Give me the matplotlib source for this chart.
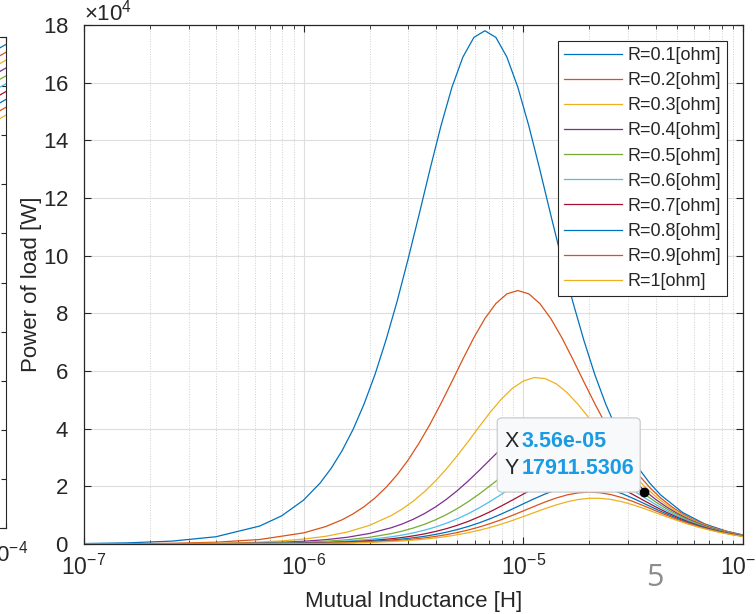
import numpy as np
import matplotlib.pyplot as plt
from matplotlib.ticker import ScalarFormatter, LogLocator, FixedLocator
from matplotlib.patches import FancyBboxPatch

plt.rcParams['font.family'] = ['Liberation Sans', 'DejaVu Sans']
plt.rcParams['mathtext.fontset'] = 'custom'
plt.rcParams['mathtext.rm'] = 'Liberation Sans'

# log10 of mutual inductance [H] -- finer sampling around the two tall peaks
log_m_r01 = [-7.0, -6.8, -6.6, -6.4, -6.2, -6.1, -6.0, -5.925, -5.875, -5.825, -5.775,
             -5.725, -5.675, -5.625, -5.575, -5.525, -5.475, -5.425, -5.375, -5.325,
             -5.275, -5.225, -5.175, -5.125, -5.075, -5.025, -4.975, -4.925, -4.875,
             -4.825, -4.775, -4.725, -4.675, -4.625, -4.575, -4.525, -4.475, -4.425,
             -4.375, -4.275, -4.175, -4.075, -4.0]
log_m_r02 = [-7.0, -6.8, -6.6, -6.4, -6.2, -6.0, -5.9, -5.825, -5.775, -5.725, -5.675,
             -5.625, -5.575, -5.525, -5.475, -5.425, -5.375, -5.325, -5.275, -5.225,
             -5.175, -5.125, -5.075, -5.025, -4.975, -4.925, -4.875, -4.825, -4.775,
             -4.725, -4.675, -4.625, -4.575, -4.525, -4.475, -4.425, -4.375, -4.325,
             -4.275, -4.225, -4.125, -4.025, -4.0]
log_m = [-7.0, -6.9, -6.8, -6.7, -6.6, -6.5, -6.4, -6.3, -6.2, -6.1, -6.0,
         -5.9, -5.8, -5.7, -5.6, -5.55, -5.5, -5.45, -5.4, -5.35, -5.3, -5.25,
         -5.2, -5.15, -5.1, -5.05, -5.0, -4.95, -4.9, -4.85, -4.8, -4.75, -4.7,
         -4.65, -4.6, -4.55, -4.5, -4.45, -4.4, -4.35, -4.3, -4.25, -4.2,
         -4.15, -4.1, -4.05, -4.0]

# power of load, in units of 1e4 W
p_r01 = [0.016, 0.040, 0.100, 0.251, 0.623, 0.977, 1.525, 2.116, 2.622, 3.236, 3.975,
         4.854, 5.885, 7.079, 8.405, 9.868, 11.41, 12.99, 14.50, 15.84, 16.89, 17.57,
         17.80, 17.57, 16.89, 15.84, 14.50, 12.99, 11.41, 9.868, 8.405, 7.079, 5.885,
         4.854, 3.975, 3.236, 2.622, 2.116, 1.702, 1.093, 0.698, 0.443, 0.315]
p_r02 = [0.004, 0.010, 0.025, 0.062, 0.156, 0.386, 0.604, 0.840, 1.045, 1.295, 1.598,
         1.963, 2.397, 2.906, 3.496, 4.151, 4.873, 5.634, 6.414, 7.160, 7.820, 8.340,
         8.675, 8.790, 8.675, 8.340, 7.820, 7.160, 6.414, 5.634, 4.873, 4.151, 3.496,
         2.906, 2.397, 1.963, 1.598, 1.295, 1.045, 0.840, 0.540, 0.345, 0.308]
p_r03 = [0.002, 0.003, 0.004, 0.007, 0.011, 0.017, 0.027, 0.043, 0.068, 0.108, 0.170,
         0.267, 0.417, 0.647, 0.992, 1.220, 1.493, 1.814, 2.186, 2.605, 3.070, 3.565,
         4.077, 4.575, 5.026, 5.396, 5.652, 5.774, 5.736, 5.555, 5.245, 4.835, 4.359,
         3.851, 3.345, 2.861, 2.415, 2.015, 1.666, 1.367, 1.115, 0.905, 0.731,
         0.588, 0.472, 0.378, 0.302]
p_r04 = [0.001, 0.002, 0.002, 0.004, 0.006, 0.010, 0.015, 0.024, 0.038, 0.061, 0.095,
         0.150, 0.235, 0.366, 0.566, 0.699, 0.861, 1.055, 1.284, 1.551, 1.855, 2.193,
         2.557, 2.936, 3.311, 3.656, 3.948, 4.161, 4.274, 4.277, 4.167, 3.958, 3.668,
         3.324, 2.951, 2.572, 2.207, 1.867, 1.562, 1.294, 1.064, 0.869, 0.705,
         0.570, 0.459, 0.369, 0.296]
p_r05 = [0.001, 0.001, 0.002, 0.002, 0.004, 0.006, 0.010, 0.015, 0.024, 0.038, 0.060,
         0.095, 0.149, 0.233, 0.362, 0.450, 0.556, 0.684, 0.838, 1.020, 1.231, 1.472,
         1.739, 2.028, 2.327, 2.622, 2.895, 3.125, 3.292, 3.379, 3.379, 3.291, 3.124,
         2.894, 2.621, 2.326, 2.027, 1.738, 1.471, 1.230, 1.019, 0.837, 0.683,
         0.555, 0.449, 0.361, 0.291]
p_r06 = [0.000, 0.001, 0.001, 0.002, 0.003, 0.004, 0.007, 0.011, 0.017, 0.026, 0.041,
         0.065, 0.103, 0.161, 0.251, 0.312, 0.388, 0.479, 0.589, 0.721, 0.876, 1.055,
         1.257, 1.482, 1.721, 1.968, 2.208, 2.426, 2.605, 2.728, 2.787, 2.769, 2.681,
         2.532, 2.334, 2.104, 1.859, 1.615, 1.381, 1.166, 0.973, 0.804, 0.660,
         0.538, 0.437, 0.353, 0.284]
p_r07 = [0.000, 0.001, 0.001, 0.001, 0.002, 0.003, 0.005, 0.008, 0.012, 0.019, 0.030,
         0.047, 0.075, 0.117, 0.183, 0.228, 0.284, 0.351, 0.434, 0.532, 0.650, 0.787,
         0.947, 1.123, 1.319, 1.523, 1.732, 1.931, 2.107, 2.244, 2.332, 2.360, 2.326,
         2.233, 2.092, 1.913, 1.712, 1.503, 1.298, 1.105, 0.930, 0.773, 0.637,
         0.522, 0.425, 0.344, 0.278]
p_r08 = [0.000, 0.000, 0.001, 0.001, 0.001, 0.002, 0.004, 0.006, 0.009, 0.014, 0.023,
         0.036, 0.057, 0.089, 0.139, 0.174, 0.216, 0.268, 0.332, 0.409, 0.501, 0.610,
         0.736, 0.880, 1.041, 1.214, 1.394, 1.572, 1.737, 1.876, 1.978, 2.032, 2.034,
         1.983, 1.883, 1.746, 1.582, 1.405, 1.225, 1.051, 0.890, 0.744, 0.617,
         0.507, 0.414, 0.336, 0.272]
p_r09 = [0.000, 0.000, 0.001, 0.001, 0.001, 0.002, 0.003, 0.005, 0.007, 0.011, 0.018,
         0.028, 0.045, 0.070, 0.110, 0.137, 0.171, 0.212, 0.263, 0.325, 0.399, 0.487,
         0.591, 0.711, 0.844, 0.992, 1.148, 1.307, 1.460, 1.596, 1.704, 1.774, 1.800,
         1.778, 1.711, 1.607, 1.472, 1.320, 1.160, 1.004, 0.856, 0.721, 0.600,
         0.495, 0.405, 0.330, 0.267]
p_r10 = [0.000, 0.000, 0.000, 0.001, 0.001, 0.001, 0.002, 0.004, 0.006, 0.009, 0.014,
         0.022, 0.035, 0.056, 0.087, 0.109, 0.136, 0.169, 0.211, 0.260, 0.321, 0.393,
         0.478, 0.577, 0.690, 0.815, 0.951, 1.091, 1.230, 1.357, 1.465, 1.544, 1.585,
         1.585, 1.544, 1.465, 1.357, 1.230, 1.091, 0.951, 0.815, 0.690, 0.577,
         0.478, 0.393, 0.321, 0.260]

series = [(log_m_r01, p_r01), (log_m_r02, p_r02), (log_m, p_r03), (log_m, p_r04),
          (log_m, p_r05), (log_m, p_r06), (log_m, p_r07), (log_m, p_r08),
          (log_m, p_r09), (log_m, p_r10)]
labels = ['R=0.1[ohm]', 'R=0.2[ohm]', 'R=0.3[ohm]', 'R=0.4[ohm]', 'R=0.5[ohm]',
          'R=0.6[ohm]', 'R=0.7[ohm]', 'R=0.8[ohm]', 'R=0.9[ohm]', 'R=1[ohm]']
colors = ['#0072BD', '#D95319', '#EDB120', '#7E2F8E', '#77AC30', '#4DBEEE', '#A2142F',
          '#0072BD', '#D95319', '#EDB120']

# data tip
tip_x = 3.56e-05
tip_y = 17911.5306

# neighbouring (cropped) chart on the left: end values of its curves
left_m = [7e-5, 1e-4]
left_end = [0.985, 0.969, 0.953, 0.937, 0.921, 0.905, 0.889, 0.873, 0.857, 0.841]
left_drop = 0.018

ink = '#262626'
fig = plt.figure(figsize=(7.56, 6.14), dpi=100)

# left partial panel (only its right edge is inside the picture)
axl = fig.add_axes([-0.392, 0.140, 0.400, 0.7997])
for v, c in zip(left_end, colors):
    axl.plot(left_m, [v - left_drop, v], color=c, lw=0.9)
axl.set_xscale('log')
axl.set_xlim(1e-7, 1e-4)
axl.set_ylim(0, 1)
axl.set_yticks(np.arange(0, 1.01, 0.1))
axl.set_xticks([1e-4])
axl.xaxis.set_minor_locator(FixedLocator([]))
axl.tick_params(direction='in', right=True, top=True, labelleft=False, labelsize=16,
                colors=ink, pad=9)
for s in axl.spines.values():
    s.set_color(ink)

ax = fig.add_axes([0.1111, 0.114, 0.8717, 0.8453])
for (lm, p), c, lab in zip(series, colors, labels):
    ax.plot([10.0 ** v for v in lm], [v * 1e4 for v in p], color=c, lw=0.9, label=lab)

ax.set_xscale('log')
ax.set_xlim(1e-7, 1e-4)
ax.set_ylim(0, 180000)
ax.yaxis.set_major_locator(FixedLocator(np.arange(0, 180001, 20000)))
fmt = ScalarFormatter(useMathText=True)
fmt.set_powerlimits((4, 4))
ax.yaxis.set_major_formatter(fmt)
ax.yaxis.get_offset_text().set_fontsize(16)
ax.yaxis.get_offset_text().set_color(ink)
ax.xaxis.set_minor_locator(LogLocator(base=10, subs=np.arange(2, 10), numticks=20))

ax.set_axisbelow(True)
ax.grid(True, which='major', color='#dedede', lw=0.8)
ax.grid(True, which='minor', axis='x', color='#cfcfcf', lw=0.7, ls=':')
ax.tick_params(which='major', direction='in', length=5, right=True, top=True,
               colors=ink)
ax.tick_params(axis='y', labelsize=16, pad=11)
ax.tick_params(axis='x', labelsize=16.5, pad=8)
ax.tick_params(which='minor', direction='in', length=3, right=True, top=True, colors=ink)
for s in ax.spines.values():
    s.set_color(ink)
    s.set_linewidth(0.9)

ax.set_xlabel('Mutual Inductance [H]', fontsize=16, color=ink)
ax.set_ylabel('Power of load [W]', fontsize=16, color=ink)
ax.xaxis.set_label_coords(0.5, -0.09)
ax.yaxis.set_label_coords(-0.063, 0.5)

leg = ax.legend(loc='upper right', bbox_to_anchor=(0.976, 0.969), borderaxespad=0,
                fontsize=13, fancybox=False, edgecolor=ink, framealpha=1,
                handlelength=3.2, handletextpad=0.3, labelspacing=0.45, borderpad=0.33)
leg.get_frame().set_linewidth(0.8)
for t in leg.get_texts():
    t.set_color(ink)

# data tip
ax.plot([tip_x], [tip_y], 'o', color='black', ms=6, zorder=6)
box = FancyBboxPatch((0.627, 0.100), 0.217, 0.143, transform=ax.transAxes,
                     boxstyle='round,pad=0,rounding_size=0.008', facecolor='#f8f9fb',
                     edgecolor='#c6c6c6', lw=0.8, zorder=7)
ax.add_patch(box)
ax.text(0.638, 0.198, 'X', transform=ax.transAxes, fontsize=15.5, color=ink,
        va='center', zorder=8)
ax.text(0.664, 0.198, '%.2e' % tip_x, transform=ax.transAxes, fontsize=15.5,
        color='#1a9be3', fontweight='bold', va='center', zorder=8)
ax.text(0.638, 0.146, 'Y', transform=ax.transAxes, fontsize=15.5, color=ink,
        va='center', zorder=8)
ax.text(0.664, 0.146, '%.4f' % tip_y, transform=ax.transAxes, fontsize=15.5,
        color='#1a9be3', fontweight='bold', va='center', zorder=8)

# slide number
fig.text(0.866, 0.058, '5', fontsize=22, color='#8c8c8c', ha='center', va='center',
         family='Open Sans')

fig.savefig('out.png', dpi=100)
